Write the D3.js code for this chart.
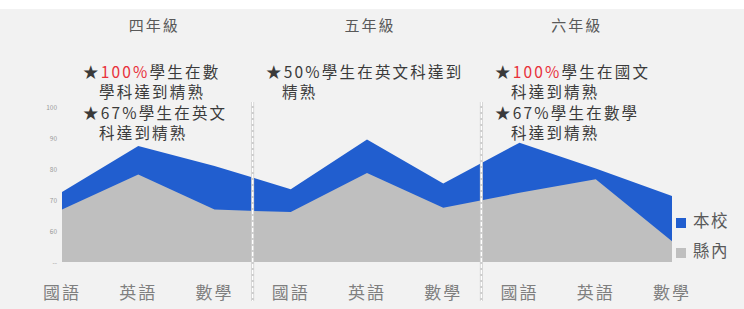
<!DOCTYPE html>
<html>
<head>
<meta charset="utf-8">
<script src="https://cdn.jsdelivr.net/npm/d3@7"></script>
<style>
  body { margin: 0; background: #fff; }
  text { font-family: "Noto Sans CJK TC", "Noto Sans", sans-serif; }
</style>
</head>
<body>
<div id="chart"></div>
<script>
// data
const grades = ['四年級', '五年級', '六年級'];
const subjects = ['國語', '英語', '數學', '國語', '英語', '數學', '國語', '英語', '數學'];
const school = [72.6, 87.4, 81.0, 73.5, 89.5, 75.3, 88.5, 80.2, 71.3];
const county = [66.9, 78.2, 66.9, 66.1, 78.7, 67.5, 72.3, 76.7, 56.7];
const yTicks = [50, 60, 70, 80, 90, 100];
const yTickLabels = ['--', '60', '70', '80', '90', '100'];
const seriesNames = ['本校', '縣內'];
// each note: lines, each line a list of [text, highlight]
const notes = [
  [[['★', 0], ['100%', 1], ['學生在數', 0]], [['學科達到精熟', 0]], [['★67%學生在英文', 0]], [['科達到精熟', 0]]],
  [[['★50%學生在英文科達到', 0]], [['精熟', 0]]],
  [[['★', 0], ['100%', 1], ['學生在國文', 0]], [['科達到精熟', 0]], [['★67%學生在數學', 0]], [['科達到精熟', 0]]]
];

const W = 744, H = 309;
const svg = d3.select('#chart').append('svg').attr('width', W).attr('height', H);

svg.append('rect')
  .attr('x', 0).attr('y', 9)
  .attr('width', W).attr('height', H - 9)
  .attr('fill', '#f2f2f2');

const x = d3.scalePoint().domain(d3.range(subjects.length)).range([62, 672]);
const y = d3.scaleLinear().domain([50, 100]).range([262, 107]);

const area = vals => d3.area()
  .x((d, i) => x(i))
  .y0(y(50))
  .y1(d => y(d))(vals);

svg.append('path').attr('d', area(school)).attr('fill', '#215ecf');
svg.append('path').attr('d', area(county)).attr('fill', '#bfbfbf');

// y axis labels
const yAxis = svg.append('g')
  .attr('transform', 'translate(57,0)')
  .call(d3.axisLeft(y).tickValues(yTicks).tickSize(0).tickPadding(0)
    .tickFormat((d, i) => yTickLabels[i]));
yAxis.select('.domain').remove();
yAxis.selectAll('text').attr('fill', '#9a9a9a').attr('font-size', 6.5);

// x labels
svg.append('g').selectAll('text')
  .data(subjects)
  .join('text')
  .attr('x', (d, i) => x(i))
  .attr('y', 299)
  .attr('text-anchor', 'middle')
  .attr('font-size', 17)
  .attr('letter-spacing', 2)
  .attr('fill', '#7f7f7f')
  .text(d => d);

// grade separators
const sepX = [(x(2) + x(3)) / 2, (x(5) + x(6)) / 2];
sepX.forEach(sx => {
  svg.append('line').attr('x1', sx).attr('x2', sx).attr('y1', 102).attr('y2', 301)
    .attr('stroke', '#cfcfcf').attr('stroke-width', 3);
  svg.append('line').attr('x1', sx).attr('x2', sx).attr('y1', 102).attr('y2', 301)
    .attr('stroke', '#ffffff').attr('stroke-width', 1.4).attr('stroke-dasharray', '4,2');
});

// grade headings
const gradeX = [x(1) + 16, x(4) + 3, x(7) - 19];
svg.append('g').selectAll('text')
  .data(grades)
  .join('text')
  .attr('x', (d, i) => gradeX[i])
  .attr('y', 31)
  .attr('text-anchor', 'middle')
  .attr('font-size', 15)
  .attr('letter-spacing', 2)
  .attr('fill', '#595959')
  .text(d => d);

// notes
const noteX = [83, 266, 495];
notes.forEach((lines, n) => {
  lines.forEach((segs, li) => {
    const indent = segs[0][0].startsWith('★') ? 0 : 16;
    const t = svg.append('text')
      .attr('x', noteX[n] + indent)
      .attr('y', 77.5 + li * 20.5)
      .attr('font-size', 15.5)
      .attr('letter-spacing', 2.2)
      .attr('fill', '#3a3a3a');
    segs.forEach(s => {
      t.append('tspan').attr('fill', s[1] ? '#e8303a' : '#3a3a3a').text(s[0]);
    });
  });
});

// legend
const legColors = ['#215ecf', '#bfbfbf'];
const leg = svg.append('g');
seriesNames.forEach((name, i) => {
  leg.append('rect').attr('x', 676).attr('y', 218 + i * 30).attr('width', 10).attr('height', 10)
    .attr('fill', legColors[i]);
  leg.append('text').attr('x', 693).attr('y', 227 + i * 30)
    .attr('font-size', 16.5).attr('letter-spacing', 1.5).attr('fill', '#595959').text(name);
});
</script>
</body>
</html>
